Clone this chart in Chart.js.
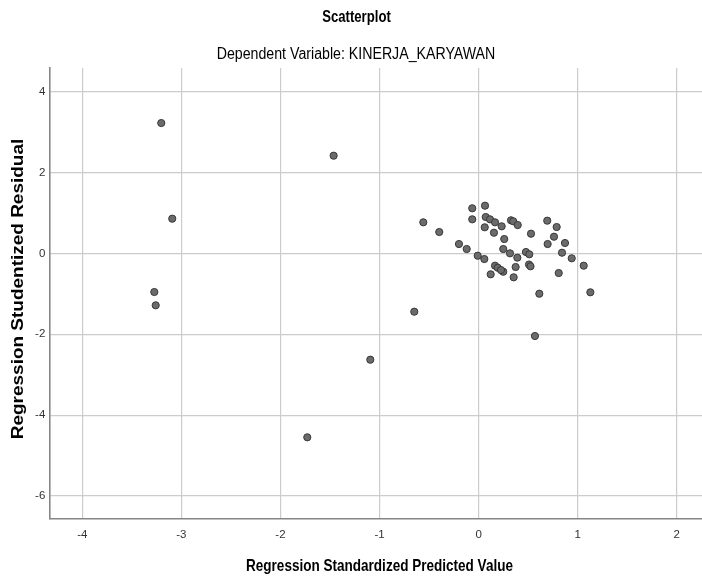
<!DOCTYPE html>
<html><head><meta charset="utf-8">
<script src="https://cdn.jsdelivr.net/npm/chart.js@4.4.1/dist/chart.umd.min.js"></script>
<style>html,body{margin:0;padding:0;background:#fff;} #wrap{width:702px;height:583px;}</style>
</head><body><div id="wrap"><canvas id="c" width="702" height="583"></canvas></div>
<script>
// Regression Standardized Predicted Value (x) and Regression Studentized Residual (y)
const predictedValues = [
  -0.558, -0.397, -0.198, -0.120, -0.064, -0.064, -0.009, 0.065, 0.072, 0.062,
  0.058, 0.115, 0.166, 0.155, 0.233, 0.259, 0.249, 0.317, 0.327, 0.350,
  0.395, 0.391, 0.166, 0.193, 0.249, 0.226, 0.122, 0.374, 0.354, 0.478,
  0.512, 0.509, 0.524, 0.529, 0.693, 0.788, 0.761, 0.697, 0.872, 0.842,
  0.940, 1.061, 0.809, 1.128, 0.613, 0.569, -0.649, -1.093, -1.729, -3.203,
  -1.463, -3.092, -3.273, -3.259
];
const residualValues = [
  0.769, 0.529, 0.232, 0.109, 1.116, 0.843, -0.057, 1.180, 0.900, 0.646,
  -0.139, 0.843, 0.769, 0.512, 0.670, 0.356, 0.109, 0.002, 0.819, 0.794,
  0.702, -0.106, -0.304, -0.354, -0.453, -0.411, -0.517, -0.336, -0.591, 0.035,
  -0.022, -0.275, -0.319, 0.487, 0.809, 0.653, 0.413, 0.232, 0.257, 0.017,
  -0.121, -0.304, -0.485, -0.962, -0.997, -2.043, -1.442, -2.629, -4.549, 3.225,
  2.417, 0.859, -0.955, -1.284
];
const xTickValues = [-4, -3, -2, -1, 0, 1, 2];
const yTickValues = [-6, -4, -2, 0, 2, 4];
const titleText = 'Scatterplot';
const subtitleText = 'Dependent Variable: KINERJA_KARYAWAN';
const xAxisTitle = 'Regression Standardized Predicted Value';
const yAxisTitle = 'Regression Studentized Residual';

const sans = "'Liberation Sans', Arial, sans-serif";

const points = predictedValues.map((x, i) => ({x: x, y: residualValues[i]}));

// Draws titles with SPSS-like narrow (horizontally scaled) type.
const spssTitles = {
  id: 'spssTitles',
  afterDraw(chart, args, opts) {
    const ctx = chart.ctx;
    opts.items.forEach(it => {
      ctx.save();
      ctx.font = it.font;
      ctx.fillStyle = it.color || '#000';
      ctx.textAlign = 'center';
      ctx.textBaseline = 'middle';
      ctx.translate(it.x, it.y);
      if (it.rotate) ctx.rotate(it.rotate);
      ctx.scale(it.sx, 1);
      ctx.fillText(it.text, 0, 0);
      ctx.restore();
    });
  }
};

new Chart(document.getElementById('c'), {
  type: 'scatter',
  data: {
    datasets: [{
      data: points,
      backgroundColor: '#6b6b6b',
      borderColor: '#383838',
      borderWidth: 1,
      pointRadius: 3.6,
      pointHoverRadius: 3.6
    }]
  },
  plugins: [spssTitles],
  options: {
    responsive: false,
    animation: false,
    events: [],
    layout: {autoPadding: false, padding: {top: 68, left: 0, right: 0, bottom: 0}},
    plugins: {
      legend: {display: false},
      tooltip: {enabled: false},
      title: {display: false},
      spssTitles: {
        items: [
          {text: titleText, x: 356.5, y: 17.5, sx: 0.82, font: "bold 16px " + sans, color: '#000'},
          {text: subtitleText, x: 356, y: 54, sx: 0.82, font: "17.3px " + sans, color: '#000'},
          {text: xAxisTitle, x: 379.5, y: 566, sx: 0.82, font: "bold 16.5px " + sans, color: '#000'},
          {text: yAxisTitle, x: 18, y: 289, sx: 1.15, rotate: -Math.PI / 2, font: "bold 16.5px " + sans, color: '#000'}
        ]
      }
    },
    scales: {
      x: {
        type: 'linear', min: -4.333, max: 2.255,
        afterBuildTicks: s => { s.ticks = xTickValues.map(v => ({value: v})); },
        afterFit: s => { s.height = 64.3; s.paddingLeft = 0; s.paddingRight = 0; },
        grid: {color: '#cccccc', lineWidth: 1.2, drawTicks: false},
        border: {color: '#868686', width: 1.6},
        ticks: {color: '#333', padding: 9, font: {family: sans, size: 11.5}}
      },
      y: {
        type: 'linear', min: -6.562, max: 4.586,
        afterBuildTicks: s => { s.ticks = yTickValues.map(v => ({value: v})); },
        afterFit: s => { s.width = 49.3; s.paddingTop = 0; s.paddingBottom = 0; },
        grid: {color: '#cccccc', lineWidth: 1.2, drawTicks: false},
        border: {color: '#868686', width: 1.6},
        ticks: {color: '#333', padding: 4, font: {family: sans, size: 11.5}}
      }
    }
  }
});
</script>
</body></html>
